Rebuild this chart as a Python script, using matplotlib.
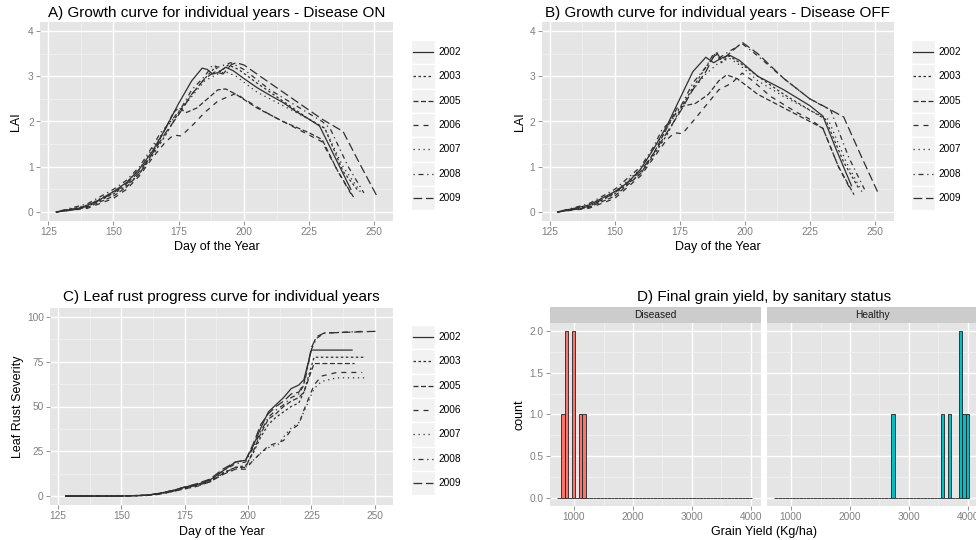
import numpy as np
import matplotlib
matplotlib.use('Agg')
import matplotlib.pyplot as plt
from matplotlib.patches import Rectangle

plt.rcParams['font.family'] = ['Liberation Sans', 'DejaVu Sans']

years = ['2002', '2003', '2005', '2006', '2007', '2008', '2009']

# A) LAI, disease ON
day_on_2002 = [128, 135, 140, 145, 150, 155, 160, 165, 170, 175, 180, 184, 186, 188, 190, 193, 196, 200, 205, 210, 215, 220, 225, 229, 235, 241]
lai_on_2002 = [0, 0.05, 0.15, 0.28, 0.45, 0.65, 0.95, 1.35, 1.85, 2.4, 2.9, 3.18, 3.15, 3.05, 3.08, 3.2, 3.12, 2.95, 2.75, 2.58, 2.42, 2.22, 2.05, 1.9, 1.2, 0.5]
day_on_2003 = [128, 140, 150, 155, 160, 165, 170, 175, 180, 185, 189, 191, 194, 198, 205, 215, 225, 231, 238, 244]
lai_on_2003 = [0, 0.12, 0.4, 0.58, 0.85, 1.25, 1.7, 2.2, 2.6, 2.95, 3.2, 3.1, 3.25, 3.15, 2.85, 2.45, 2.05, 1.85, 0.9, 0.45]
day_on_2005 = [128, 140, 150, 155, 160, 165, 170, 173, 175, 178, 182, 186, 190, 193, 197, 205, 215, 225, 230, 236, 242]
lai_on_2005 = [0, 0.1, 0.35, 0.55, 0.85, 1.3, 1.85, 2.2, 2.3, 2.2, 2.3, 2.5, 2.7, 2.72, 2.6, 2.3, 2.0, 1.75, 1.6, 0.9, 0.33]
day_on_2006 = [128, 140, 150, 155, 160, 165, 170, 173, 176, 180, 185, 190, 194, 197, 200, 210, 220, 225, 230, 236, 241]
lai_on_2006 = [0, 0.08, 0.3, 0.5, 0.8, 1.2, 1.55, 1.7, 1.68, 1.9, 2.2, 2.45, 2.55, 2.62, 2.5, 2.15, 1.85, 1.7, 1.55, 0.9, 0.4]
day_on_2007 = [128, 140, 150, 155, 160, 165, 170, 175, 180, 185, 190, 193, 197, 205, 215, 225, 231, 238, 245]
lai_on_2007 = [0, 0.15, 0.45, 0.65, 0.95, 1.4, 1.85, 2.2, 2.55, 2.9, 3.05, 3.1, 3.0, 2.65, 2.35, 2.05, 1.85, 1.0, 0.42]
day_on_2008 = [128, 140, 150, 155, 160, 165, 168, 172, 176, 180, 185, 188, 190, 195, 200, 210, 220, 230, 233, 240, 246]
lai_on_2008 = [0, 0.18, 0.5, 0.7, 1.0, 1.45, 1.75, 2.0, 2.3, 2.7, 3.0, 3.25, 3.2, 3.3, 3.15, 2.7, 2.35, 2.0, 1.85, 1.0, 0.42]
day_on_2009 = [128, 140, 150, 155, 160, 165, 170, 175, 180, 185, 189, 192, 195, 197, 200, 210, 220, 230, 238, 245, 251]
lai_on_2009 = [0, 0.12, 0.42, 0.62, 0.9, 1.3, 1.75, 2.15, 2.6, 2.95, 3.1, 3.05, 3.25, 3.3, 3.25, 2.85, 2.45, 2.05, 1.78, 1.0, 0.35]

# B) LAI, disease OFF
day_off_2002 = [128, 140, 150, 155, 160, 165, 170, 175, 180, 185, 188, 191, 194, 198, 205, 215, 225, 230, 235, 241]
lai_off_2002 = [0, 0.15, 0.45, 0.65, 0.95, 1.4, 1.9, 2.5, 3.1, 3.42, 3.3, 3.4, 3.47, 3.35, 3.0, 2.7, 2.35, 2.12, 1.4, 0.58]
day_off_2003 = [128, 140, 150, 160, 165, 170, 175, 180, 185, 189, 191, 194, 198, 205, 215, 225, 231, 238, 244]
lai_off_2003 = [0, 0.12, 0.4, 0.85, 1.25, 1.7, 2.25, 2.75, 3.2, 3.5, 3.3, 3.45, 3.3, 3.0, 2.6, 2.25, 2.05, 1.1, 0.5]
day_off_2005 = [128, 140, 150, 160, 165, 170, 174, 177, 181, 186, 190, 193, 197, 205, 215, 225, 230, 236, 242]
lai_off_2005 = [0, 0.1, 0.35, 0.85, 1.3, 1.85, 2.3, 2.35, 2.4, 2.6, 2.9, 3.03, 2.95, 2.6, 2.3, 2.0, 1.85, 1.0, 0.38]
day_off_2006 = [128, 140, 150, 160, 165, 170, 173, 176, 180, 185, 190, 195, 199, 203, 210, 220, 225, 230, 236, 241]
lai_off_2006 = [0, 0.08, 0.3, 0.8, 1.2, 1.6, 1.75, 1.73, 2.0, 2.35, 2.7, 2.85, 3.07, 2.9, 2.55, 2.2, 2.05, 1.85, 1.0, 0.45]
day_off_2007 = [128, 140, 150, 160, 165, 170, 175, 180, 185, 190, 194, 198, 205, 215, 225, 232, 239, 245]
lai_off_2007 = [0, 0.15, 0.45, 0.95, 1.4, 1.85, 2.3, 2.7, 3.05, 3.3, 3.4, 3.25, 2.9, 2.55, 2.25, 2.05, 1.1, 0.45]
day_off_2008 = [128, 140, 150, 160, 165, 168, 172, 176, 180, 185, 188, 190, 194, 199, 205, 215, 225, 233, 240, 246]
lai_off_2008 = [0, 0.18, 0.5, 1.0, 1.45, 1.8, 2.05, 2.4, 2.85, 3.2, 3.5, 3.4, 3.55, 3.72, 3.45, 2.95, 2.5, 2.25, 1.2, 0.5]
day_off_2009 = [128, 140, 150, 160, 165, 170, 175, 180, 185, 189, 191, 195, 199, 205, 215, 225, 230, 238, 245, 251]
lai_off_2009 = [0, 0.12, 0.42, 0.9, 1.3, 1.75, 2.2, 2.7, 3.1, 3.55, 3.35, 3.55, 3.75, 3.5, 2.95, 2.5, 2.35, 2.1, 1.2, 0.45]

# C) leaf rust severity
day_lr_2002 = [128, 150, 160, 165, 170, 175, 180, 185, 190, 195, 199, 202, 205, 208, 211, 214, 217, 220, 222, 225, 241]
sev_2002 = [0, 0, 0.5, 1.5, 3, 5, 6.5, 9, 14, 19, 20, 28, 38, 47, 51, 55, 60, 62, 65, 81.5, 81.5]
day_lr_2003 = [128, 150, 160, 165, 170, 175, 180, 185, 190, 195, 199, 202, 205, 208, 211, 214, 217, 220, 222, 226, 246]
sev_2003 = [0, 0, 0.4, 1.5, 3, 4.5, 6, 8.5, 13, 16, 17, 24, 33, 40, 44, 47, 50, 52, 58, 77.5, 77.5]
day_lr_2005 = [128, 150, 160, 165, 170, 175, 180, 185, 190, 195, 199, 202, 205, 208, 211, 214, 217, 220, 222, 226, 242]
sev_2005 = [0, 0, 0.4, 1.2, 2.5, 4.5, 6, 8, 12.5, 16, 16, 25, 35, 43, 46, 50, 53, 55, 58, 74, 74]
day_lr_2006 = [128, 150, 160, 165, 170, 175, 180, 185, 190, 195, 199, 202, 205, 208, 212, 214, 217, 220, 222, 226, 229, 235, 245]
sev_2006 = [0, 0, 0.3, 1, 2.5, 4, 5.5, 8, 12, 15, 15, 20, 24, 28, 30, 31, 37, 40, 48, 62, 67, 69, 69]
day_lr_2007 = [128, 150, 160, 165, 170, 175, 180, 185, 190, 195, 199, 202, 205, 208, 212, 214, 217, 220, 222, 226, 229, 235, 247]
sev_2007 = [0, 0, 0.3, 1, 2.5, 4, 5.5, 8, 12, 15, 16, 20, 24, 27, 29, 33, 38, 41, 47, 60, 64, 66, 66]
day_lr_2008 = [128, 150, 160, 165, 170, 175, 180, 185, 190, 195, 199, 202, 205, 208, 211, 214, 217, 220, 222, 225, 227, 230, 246]
sev_2008 = [0, 0, 0.4, 1.5, 3, 5, 6.5, 9, 14, 18, 19, 27, 36, 44, 48, 51, 55, 57, 62, 82, 88, 91, 92]
day_lr_2009 = [128, 150, 160, 165, 170, 175, 180, 185, 190, 195, 199, 202, 205, 208, 211, 214, 217, 220, 222, 225, 227, 230, 240, 251]
sev_2009 = [0, 0, 0.5, 1.5, 3, 5, 7, 9.5, 15, 19, 20, 29, 40, 46, 50, 53, 57, 58, 63, 83, 89, 91, 91.5, 92]

# D) final grain yield (kg/ha), one value per year
yield_diseased = [810, 870, 875, 990, 995, 1110, 1170]
yield_healthy = [2730, 3570, 3690, 3870, 3875, 3930, 3990]

lai_on = {'2002': (day_on_2002, lai_on_2002), '2003': (day_on_2003, lai_on_2003),
          '2005': (day_on_2005, lai_on_2005), '2006': (day_on_2006, lai_on_2006),
          '2007': (day_on_2007, lai_on_2007), '2008': (day_on_2008, lai_on_2008),
          '2009': (day_on_2009, lai_on_2009)}
lai_off = {'2002': (day_off_2002, lai_off_2002), '2003': (day_off_2003, lai_off_2003),
           '2005': (day_off_2005, lai_off_2005), '2006': (day_off_2006, lai_off_2006),
           '2007': (day_off_2007, lai_off_2007), '2008': (day_off_2008, lai_off_2008),
           '2009': (day_off_2009, lai_off_2009)}
rust = {'2002': (day_lr_2002, sev_2002), '2003': (day_lr_2003, sev_2003),
        '2005': (day_lr_2005, sev_2005), '2006': (day_lr_2006, sev_2006),
        '2007': (day_lr_2007, sev_2007), '2008': (day_lr_2008, sev_2008),
        '2009': (day_lr_2009, sev_2009)}

# ggplot default linetypes
styles = {'2002': '-', '2003': (0, (2, 2)), '2005': (0, (4, 2)), '2006': (0, (4, 4)),
          '2007': (0, (1, 3)), '2008': (0, (1, 3, 4, 3)), '2009': (0, (7, 3))}
LINE = '#303030'
LW = 0.9
GREY = '#7F7F7F'

W, H = 976, 540
fig = plt.figure(figsize=(W / 100, H / 100), dpi=100)


def box(x0, y0, x1, y1):
    return [x0 / W, 1 - y1 / H, (x1 - x0) / W, (y1 - y0) / H]


def gg(ax, xlim, ylim, xmaj, xmin, ymaj, ymin, ylabels=True):
    ax.set_facecolor('#E5E5E5')
    for s in ax.spines.values():
        s.set_visible(False)
    ax.set_xlim(xlim)
    ax.set_ylim(ylim)
    ax.set_xticks(xmaj)
    ax.set_xticks(xmin, minor=True)
    ax.set_yticks(ymaj)
    ax.set_yticks(ymin, minor=True)
    ax.grid(which='major', color='white', lw=1.0)
    ax.grid(which='minor', color='#F2F2F2', lw=0.5)
    ax.set_axisbelow(True)
    ax.tick_params(which='major', length=3, width=0.6, color=GREY,
                   labelcolor=GREY, labelsize=7.3, pad=1.5)
    ax.tick_params(which='minor', length=0)
    if not ylabels:
        ax.tick_params(axis='y', which='major', length=0, labelleft=False)


def legend(x0, y0):
    kh = 24.3
    lax = fig.add_axes(box(x0, y0, x0 + 60, y0 + 7 * kh))
    lax.set_xlim(0, 60)
    lax.set_ylim(7 * kh, 0)
    lax.axis('off')
    for i, yr in enumerate(years):
        top = i * kh
        lax.add_patch(Rectangle((0, top), 24, kh, facecolor='#F2F2F2',
                                edgecolor='white', lw=1))
        lax.plot([2, 22], [top + kh / 2] * 2, color=LINE, lw=LW, ls=styles[yr])
        lax.text(27, top + kh / 2, yr, va='center', ha='left', fontsize=7.3)


def lines(ax, table):
    for yr in years:
        d, v = table[yr]
        ax.plot(d, v, color=LINE, lw=LW, ls=styles[yr])


day_lim = (121.85, 257.15)
day_maj = [125, 150, 175, 200, 225, 250]
day_min = [137.5, 162.5, 187.5, 212.5, 237.5]

# A
axA = fig.add_axes(box(40, 22, 393, 221))
gg(axA, day_lim, (-0.2, 4.2), day_maj, day_min, [0, 1, 2, 3, 4], [0.5, 1.5, 2.5, 3.5])
lines(axA, lai_on)
fig.text(216.5 / W, 1 - 12.5 / H, 'A) Growth curve for individual years - Disease ON',
         ha='center', va='center', fontsize=11)
fig.text(216.5 / W, 1 - 247 / H, 'Day of the Year', ha='center', va='center', fontsize=9)
fig.text(16 / W, 1 - 121.5 / H, 'LAI', ha='center', va='center', rotation=90, fontsize=9)
legend(411, 40)

# B
axB = fig.add_axes(box(541.5, 22, 893.5, 221))
gg(axB, day_lim, (-0.2, 4.2), day_maj, day_min, [0, 1, 2, 3, 4], [0.5, 1.5, 2.5, 3.5])
lines(axB, lai_off)
fig.text(717.5 / W, 1 - 12.5 / H, 'B) Growth curve for individual years - Disease OFF',
         ha='center', va='center', fontsize=11)
fig.text(717.5 / W, 1 - 247 / H, 'Day of the Year', ha='center', va='center', fontsize=9)
fig.text(519.7 / W, 1 - 121.5 / H, 'LAI', ha='center', va='center', rotation=90, fontsize=9)
legend(911, 40)

# C
axC = fig.add_axes(box(50, 308, 393, 505))
gg(axC, day_lim, (-5, 105), day_maj, day_min, [0, 25, 50, 75, 100], [12.5, 37.5, 62.5, 87.5])
lines(axC, rust)
fig.text(221.5 / W, 1 - 296.7 / H, 'C) Leaf rust progress curve for individual years',
         ha='center', va='center', fontsize=11)
fig.text(221.5 / W, 1 - 531.7 / H, 'Day of the Year', ha='center', va='center', fontsize=9)
fig.text(18.3 / W, 1 - 406.5 / H, 'Leaf Rust Severity', ha='center', va='center',
         rotation=90, fontsize=9)
legend(411, 325)

# D (the right facet runs past the figure edge, as in the original)
edges = np.arange(720, 4021, 60)
yl_lim = (593, 4170)
facets = [('Diseased', yield_diseased, '#F8766D', 550, 761, True),
          ('Healthy', yield_healthy, '#00BFC4', 767, 978, False)]
for name, vals, fill, x0, x1, showy in facets:
    ax = fig.add_axes(box(x0, 323, x1, 506))
    gg(ax, yl_lim, (-0.1, 2.1), [1000, 2000, 3000, 4000], [1500, 2500, 3500],
       [0, 0.5, 1.0, 1.5, 2.0], [0.25, 0.75, 1.25, 1.75], ylabels=showy)
    if showy:
        ax.set_yticklabels(['0.0', '0.5', '1.0', '1.5', '2.0'])
    ax.hist(vals, bins=edges, color=fill, edgecolor='#222222', linewidth=0.6)
    sax = fig.add_axes(box(x0, 307, x1, 323))
    sax.set_facecolor('#CCCCCC')
    sax.set_xticks([])
    sax.set_yticks([])
    for s in sax.spines.values():
        s.set_visible(False)
    sax.text(0.5, 0.5, name, transform=sax.transAxes, ha='center', va='center',
             fontsize=7.3, color='#1a1a1a')
fig.text(764 / W, 1 - 296.7 / H, 'D) Final grain yield, by sanitary status',
         ha='center', va='center', fontsize=11)
fig.text(764 / W, 1 - 531.7 / H, 'Grain Yield (Kg/ha)', ha='center', va='center', fontsize=9)
fig.text(519.7 / W, 1 - 414.5 / H, 'count', ha='center', va='center', rotation=90, fontsize=9)

fig.savefig('out.png', dpi=100)
